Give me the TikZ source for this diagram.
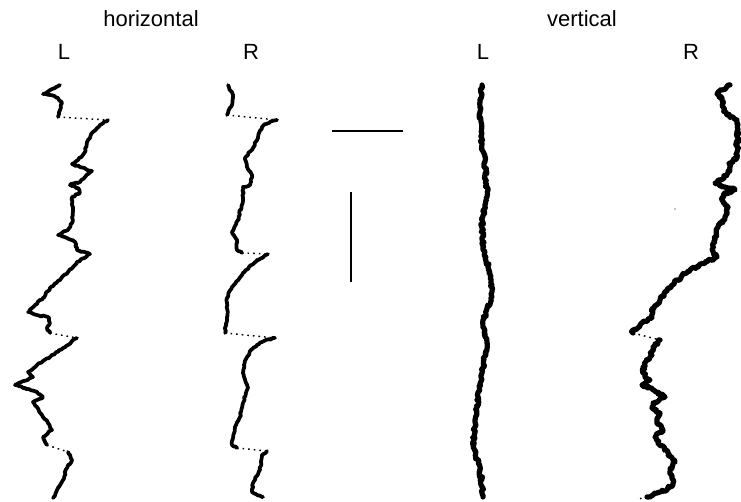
\documentclass[tikz,border=0pt]{standalone}
\usepackage{fontspec}
\setmainfont{Liberation Sans}
\usepackage{tikz}
\usetikzlibrary{decorations.pathmorphing}
\tikzset{trace/.style={line width=2.8pt, line join=round, line cap=round, decorate, decoration={random steps, segment length=1.6pt, amplitude=0.55pt}}, noisy/.style={trace, line width=3.9pt, decoration={random steps, segment length=1.3pt, amplitude=1.1pt}}, jump/.style={line width=1.1pt, dash pattern=on 1.2pt off 3pt}, bar/.style={line width=1.6pt}, lbl/.style={anchor=base, font=\fontsize{16.5}{19}\selectfont}}

\begin{document}
\begin{tikzpicture}[x=0.75pt, y=-0.75pt]
  \pgfmathsetseed{11}
  \useasboundingbox (0,0) rectangle (741,502);

  % labels
  \node[lbl] (hlabel) at (151,27) {horizontal};
  \node[lbl] (vlabel) at (582,27) {vertical};
  \node[lbl] (hL) at (64,60) {L};
  \node[lbl] (hR) at (251,60) {R};
  \node[lbl] (vL) at (483,60) {L};
  \node[lbl] (vR) at (691,60) {R};

  % horizontal, left eye
  \draw[trace] plot coordinates {(60,85) (55,88) (43,94) (50,95) (58,98) (62,103) (60,110) (58,117)};
  \draw[jump] (58,117) -- (108,120);
  \draw[trace] plot coordinates {(108,120) (100,125) (93,132) (87,142) (85,152) (78,160) (72,164) (80,167) (92,171) (85,177) (80,182) (70,185) (78,188) (80,193) (72,197) (73,207) (72,223) (68,230) (58,235) (67,238) (75,242) (77,250) (90,254) (77,262) (68,272) (60,280) (50,288) (43,298) (32,308) (28,312) (37,315) (48,317) (50,323) (47,328) (50,333)};
  \draw[jump] (50,333) -- (77,338);
  \draw[trace] plot coordinates {(77,338) (63,348) (50,357) (37,365) (28,372) (33,377) (15,385) (25,388) (37,392) (43,397) (33,402) (37,407) (42,415) (48,423) (52,430) (43,437) (47,445)};
  \draw[jump] (47,445) -- (68,452);
  \draw[trace] plot coordinates {(68,452) (72,460) (67,468) (63,480) (57,490) (53,498)};

  % horizontal, right eye
  \draw[trace] plot coordinates {(228,85) (233,95) (232,105) (228,113) (227,115)};
  \draw[jump] (227,115) -- (277,120);
  \draw[trace] plot coordinates {(277,120) (266,124) (262,127) (259,133) (258,138) (253,148) (245,158) (247,167) (252,175) (250,185) (243,187) (243,200) (238,220) (232,232) (237,240) (237,250) (242,253)};
  \draw[jump] (242,253) -- (268,254);
  \draw[trace] plot coordinates {(268,254) (257,260) (243,273) (232,287) (227,298) (227,303) (227,317) (225,333)};
  \draw[jump] (225,333) -- (275,338);
  \draw[trace] plot coordinates {(275,338) (264,341) (257,345) (251,350) (247,357) (244,365) (243,373) (248,388) (243,403) (240,417) (235,427) (232,445) (237,448)};
  \draw[jump] (237,448) -- (267,451);
  \draw[trace] plot coordinates {(267,451) (262,455) (260,470) (253,483) (252,492) (263,497)};

  % scale bars
  \draw[bar] (332,131) -- (403,131);
  \draw[bar] (351,192) -- (351,282);

  % vertical, left eye
  \draw[noisy] plot coordinates {(482,85) (480,113) (482,147) (485,160) (487,197) (482,220) (483,247) (490,273) (492,297) (483,320) (487,343) (482,373) (478,397) (475,420) (473,447) (480,467) (483,497)};

  % vertical, right eye
  \draw[noisy] plot coordinates {(730,85) (722,90) (717,94) (722,98) (723,107) (727,115) (737,120) (738,130) (737,147) (737,158) (730,163) (728,173) (720,180) (715,183) (725,187) (735,190) (725,193) (722,200) (728,208) (725,217) (718,227) (715,240) (712,250) (717,257) (707,262) (690,270) (677,280) (665,292) (660,300) (653,308) (652,317) (640,325) (633,330) (633,333)};
  \draw[jump] (633,333) -- (660,340);
  \draw[noisy] plot coordinates {(660,340) (653,347) (650,357) (643,367) (645,377) (650,380) (642,385) (653,390) (665,397) (653,403) (652,408) (660,413) (657,423) (663,430) (655,437) (658,443) (668,453) (675,462) (670,472) (673,483) (667,490) (657,493) (647,497)};
  \draw[jump] (647,497) -- (638,499);
  \fill (675,209) circle (0.6);

\end{tikzpicture}
\end{document}
